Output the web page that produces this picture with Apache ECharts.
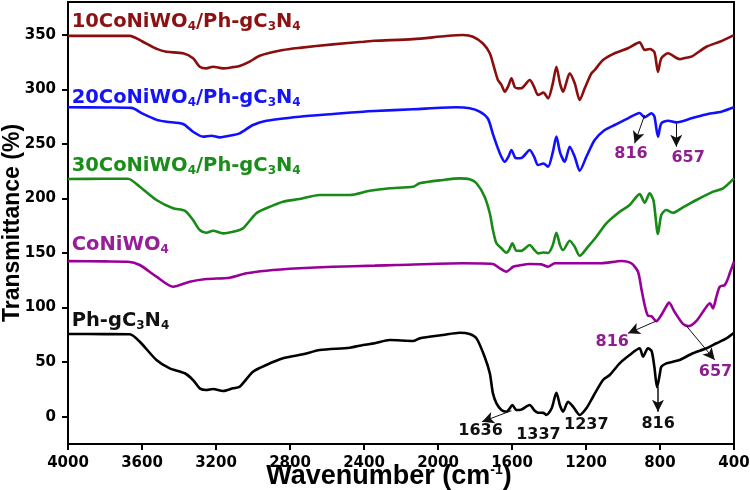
<!DOCTYPE html>
<html><head><meta charset="utf-8">
<script src="https://cdn.jsdelivr.net/npm/echarts@6/dist/echarts.min.js"></script>
<style>html,body{margin:0;padding:0;background:#fff}#c{width:750px;height:490px}</style>
</head><body><div id="c"></div>
<script>
// ---- data ----
const xTicks = [400, 800, 1200, 1600, 2000, 2400, 2800, 3200, 3600, 4000];
const yTicks = [0, 50, 100, 150, 200, 250, 300, 350];

const wn10 = [4000,3800,3666,3600,3520,3468,3378,3324,3288,3252,3216,3162,3108,3072,3018,2964,2838,2748,2568,2405,2342,2135,1955,1865,1811,1757,1720,1693,1676,1657,1639,1620,1603,1585,1568,1549,1504,1480,1459,1430,1405,1380,1360,1340,1324,1288,1261,1234,1207,1171,1153,1108,1045,973,910,883,856,830,811,793,757,694,660,630,549,477,400];
const t10 = [349,349,349,344,337,334.4,333,328.4,320.7,319.2,320.7,319.2,320.3,321.3,325.3,330.8,336,338,341.2,343.6,344.5,346,348.8,349.7,348.2,342,333,317.7,308.5,304,297.8,303,310,302,300.9,301,308.5,302,294.8,297,291.7,305,320.7,305,297.8,314.6,305.5,290.2,300.9,314.6,317.7,326.8,333,337.6,343,336,337,334,316,328.4,333,327.7,329,329.9,339,343.6,349.7];

const wn20 = [4000,3800,3657,3600,3520,3468,3378,3324,3270,3225,3180,3108,3072,3000,2928,2748,2568,2405,2342,2135,1901,1829,1775,1730,1703,1676,1657,1639,1620,1603,1585,1576,1550,1504,1480,1459,1430,1405,1380,1360,1340,1315,1288,1261,1234,1198,1153,1099,1045,973,910,883,846,830,811,793,757,712,630,541,468,400];
const t20 = [283.5,283.3,283,278,272,270.3,268.2,261.1,256.6,257.5,256,258.1,259.7,267.3,271.2,274.9,277.4,279.5,280.1,281.7,283.5,282.6,279.5,273,259,245.9,238,233.6,238,244.4,238,236.8,237,244.4,238,230.6,232,229.1,242,256.6,242,233.6,247.4,238.2,225.4,238.2,253.5,262.7,267.3,273.4,278.3,274.3,278,275,256.6,268.8,271.2,269.7,273.4,277.4,279.5,283.5];

const wn30 = [4000,3800,3676,3612,3522,3432,3369,3324,3288,3252,3216,3162,3090,3054,2982,2928,2838,2748,2639,2477,2369,2261,2135,2099,1973,1883,1829,1792,1748,1720,1703,1684,1657,1630,1615,1598,1576,1550,1504,1480,1459,1430,1405,1380,1360,1340,1324,1288,1261,1234,1189,1144,1090,1018,964,910,883,856,835,811,793,766,730,676,603,513,459,400];
const t30 = [217.8,218,218,210.7,198.6,191,188.8,180.2,171.1,168.6,170.4,168,170.2,172.6,186.4,191,197,199.5,203.1,203.1,207,209.3,210.7,213.9,216.9,218.4,217.5,213.9,201.6,186.4,171.1,158.9,154.3,150.3,153,158.9,152.1,152,157.3,153,149.7,150.5,150,157,168.6,157,152.7,161.3,155.8,147.5,155.8,164.9,177.2,187.8,194,204,196.1,204.7,198,167.4,184.8,189.4,186.9,191.9,198.6,206.2,209.3,218.4];

const wnC = [4000,3800,3676,3612,3522,3432,3342,3252,3126,3036,2928,2748,2568,2342,2225,1865,1703,1666,1630,1594,1568,1504,1441,1405,1369,1200,1117,1009,955,919,901,883,865,845,820,793,770,751,721,676,645,603,549,530,514,495,477,450,432,423,400];
const tC = [142.6,142.3,142,139,128.3,119.1,123.7,126.2,127.4,131.4,133.8,136,137.4,138.4,139,140.6,140,136,132.9,137.4,138.4,140,139.6,137.4,140.6,140.6,140.6,142.7,140.6,132.9,117.6,102.3,92.5,92,87.5,93.2,100,104.5,96,85,83,87.8,100.8,103.9,99.3,110,119,120.7,126.8,131.4,142];

const wnP = [4000,3800,3666,3612,3522,3450,3369,3324,3288,3252,3216,3162,3108,3072,3000,2928,2838,2730,2639,2477,2405,2342,2261,2135,2099,1973,1883,1829,1792,1748,1720,1703,1684,1657,1630,1615,1598,1576,1550,1504,1480,1459,1430,1414,1385,1360,1340,1324,1297,1270,1234,1198,1162,1108,1072,1018,964,910,892,865,845,830,816,800,793,766,730,694,622,549,495,441,400];
const tP = [75.8,75.7,75.5,68.7,52,44.3,39.8,33.6,26,24.5,25.4,23.5,26,27.5,41.2,47.4,53.5,57.2,61.1,63.2,65.7,67.3,70.3,69.4,71.8,74.9,77,75.8,71.8,55,39.8,21.4,12.3,6.1,4.6,7,10.7,6.1,6.5,10.7,6,3.7,3.5,1.6,8,22,10,4.6,13.7,9.2,1.6,7.7,18.3,33.6,38.2,48.9,56.5,62.7,55,62.7,60,45,27,40,45.8,48.9,50.4,52,58.1,62.7,67.3,71.8,77];

const seriesNames = ['10CoNiWO4/Ph-gC3N4', '20CoNiWO4/Ph-gC3N4', '30CoNiWO4/Ph-gC3N4', 'CoNiWO4', 'Ph-gC3N4'];

// ---- styling / layout ----
const FONT = 'DejaVu Sans';
const colors = ['#8B0E0E', '#1010FF', '#178A17', '#990099', '#000000'];
const labelColors = ['#8B1212', '#1414F5', '#1A8C1A', '#961E96', '#111111'];
const annColor = '#8E1F8E';

function pairs(x, y) { return x.map((v, i) => [v, y[i]]); }
function richName(name) {
  return name.replace(/(O|C|N)(\d)/g, '$1{s|$2}');
}
const subStyle = { fontSize: 12, fontWeight: 'bold', fontFamily: FONT, verticalAlign: 'bottom', lineHeight: 14, padding: [6, 0, 0, 0] };

const nameLabelPos = [[3980, 361.6], [3980, 292], [3980, 229.7], [3980, 157], [3980, 88]];

function nameMark(i) {
  return {
    coord: nameLabelPos[i],
    label: {
      show: true, position: 'right', distance: 0,
      formatter: richName(seriesNames[i]),
      color: labelColors[i], fontFamily: FONT, fontWeight: 'bold', fontSize: 19.5, lineHeight: 22,
      rich: { s: Object.assign({ color: labelColors[i] }, subStyle) }
    }
  };
}
function numMark(coord, text, color) {
  return { coord: coord, label: { show: true, position: 'inside', formatter: text, color: color, fontFamily: FONT, fontWeight: 'bold', fontSize: 16 } };
}
function arrow(a, b, w) { return [{ coord: a, lineStyle: { width: w || 1 } }, { coord: b }]; }

const mlBase = { silent: true, animation: false, symbol: ['none', 'arrow'], symbolSize: [9, 12], label: { show: false }, lineStyle: { color: '#111', width: 1, type: 'solid' }, emphasis: { disabled: true } };
const mpBase = { silent: true, animation: false, symbol: 'rect', symbolSize: 0 };

function mkSeries(i, x, y, numMarks, arrows) {
  return {
    type: 'line', name: seriesNames[i], data: pairs(x, y), showSymbol: false, smooth: 0.25,
    lineStyle: { color: colors[i], width: 2.6 }, itemStyle: { color: colors[i] },
    silent: true, animation: false, z: 2,
    markPoint: Object.assign({}, mpBase, { data: [nameMark(i)].concat(numMarks || []) }),
    markLine: Object.assign({}, mlBase, { data: arrows || [] })
  };
}

const option = {
  animation: false,
  grid: { left: 68, right: 16, top: 2, bottom: 46, containLabel: false, outerBoundsMode: 'none', show: true, borderColor: '#000', borderWidth: 2, backgroundColor: 'transparent' },
  xAxis: {
    type: 'value', inverse: true, min: 400, max: 4000, interval: 400,
    axisLine: { show: true, onZero: false, lineStyle: { color: '#000', width: 2 } },
    axisTick: { show: true, inside: false, length: 6, lineStyle: { color: '#000', width: 2 } },
    axisLabel: { color: '#000', fontFamily: FONT, fontWeight: 'bold', fontSize: 15, margin: 12, formatter: v => String(v) },
    splitLine: { show: false },
    name: '{b|Wavenumber (cm}{sup|-1}{b|)}', nameLocation: 'middle', nameGap: 19, nameMoveOverlap: false,
    nameTextStyle: {
      padding: [0, 24, 0, 0],
      rich: {
        b: { fontFamily: 'Liberation Sans', fontWeight: 'bold', fontSize: 27, color: '#000' },
        sup: { fontFamily: 'Liberation Sans', fontWeight: 'bold', fontSize: 14, color: '#000', verticalAlign: 'top', padding: [0, 0, 12, 0] }
      }
    }
  },
  yAxis: {
    type: 'value', min: -25, max: 380,
    axisLine: { show: true, onZero: false, lineStyle: { color: '#000', width: 2 } },
    axisTick: { show: true, inside: false, length: 6, customValues: yTicks, lineStyle: { color: '#000', width: 2 } },
    axisLabel: { customValues: yTicks, color: '#000', fontFamily: FONT, fontWeight: 'bold', fontSize: 15, margin: 12, formatter: v => String(v) },
    splitLine: { show: false },
    name: 'Transmittance (%)', nameLocation: 'middle', nameGap: 44, nameMoveOverlap: false,
    nameTextStyle: { fontFamily: 'Liberation Sans', fontWeight: 'bold', fontSize: 23, color: '#000' }
  },
  series: [
    mkSeries(0, wn10, t10),
    mkSeries(1, wn20, t20,
      [numMark([957, 241.3], '816', annColor), numMark([648, 237.5], '657', annColor)],
      [arrow([883, 276.4], [937, 250.5]), arrow([712, 268.8], [712, 247.4])]),
    mkSeries(2, wn30, t30),
    mkSeries(3, wnC, tC,
      [numMark([1058, 68.7], '816', annColor), numMark([500, 41.2], '657', annColor)],
      [arrow([820, 87.7], [973, 76.4]), arrow([657, 83.1], [504, 52])]),
    mkSeries(4, wnP, tP,
      [numMark([1770, -13.4], '1636', '#111'), numMark([1457, -16.8], '1337', '#111'),
       numMark([1198, -7], '1237', '#111'), numMark([810, -6.5], '816', '#111')],
      [arrow([1603, 5.5], [1762, -4.6]), arrow([811, 27.5], [811, 4.6], 1.5)])
  ]
};

const chart = echarts.init(document.getElementById('c'), null, { renderer: 'canvas' });
chart.setOption(option);
</script>
</body></html>
